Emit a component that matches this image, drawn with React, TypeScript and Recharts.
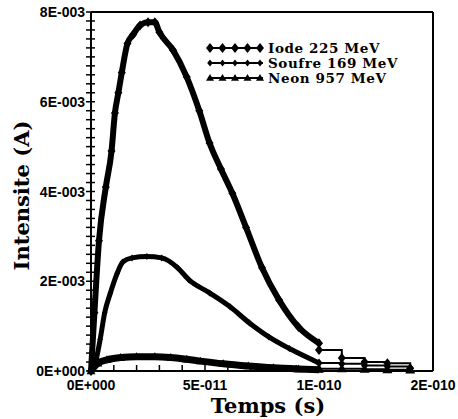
import { LineChart, Line, XAxis, YAxis, ReferenceLine, Legend } from 'recharts';

// times in picoseconds, currents in 1E-3 A
const iodeTime = [0, 1.5, 3.5, 6.5, 9, 10.5, 12, 13.5, 16, 18.5, 21.5, 25, 28, 30, 36, 42, 47.5, 52, 57, 62, 68, 75, 82.5, 91, 100];
const iodeValue = [0, 1.3, 2.9, 4.1, 4.9, 5.75, 6.2, 6.65, 7.3, 7.5, 7.7, 7.77, 7.77, 7.55, 7.15, 6.55, 5.8, 5.08, 4.5, 3.96, 3.2, 2.3, 1.58, 0.98, 0.62];
const iodeTailTime = [100, 120, 140, 160, 180];
const iodeTailValue = [0.47, 0.29, 0.2, 0.17, 0.06];

const soufreTime = [0, 2, 4, 6, 8.5, 11.5, 14, 18, 24.5, 31, 38, 43, 52, 61, 69.5, 78, 87, 100];
const soufreValue = [0, 0.2, 0.7, 1.3, 1.74, 2.18, 2.43, 2.52, 2.55, 2.52, 2.3, 2.03, 1.74, 1.43, 1.07, 0.76, 0.5, 0.18];
const soufreTailTime = [100, 120, 140, 160, 180];
const soufreTailValue = [0.18, 0.16, 0.12, 0.1, 0.06];

const neonTime = [0, 3, 7, 13, 20, 28, 35, 42, 48, 58, 69, 80, 91, 100];
const neonValue = [0, 0.17, 0.25, 0.3, 0.32, 0.32, 0.3, 0.26, 0.22, 0.16, 0.11, 0.07, 0.045, 0.03];
const neonTailTime = [100, 120, 140, 160, 180];
const neonTailValue = [0.05, 0.05, 0.04, 0.03, 0.02];

const xTickValues = [0, 50, 100, 150];
const xTickLabels = ['0E+000', '5E-011', '1E-010', '2E-010'];
const yTickValues = [0, 2, 4, 6, 8];
const yTickLabels = ['0E+000', '2E-003', '4E-003', '6E-003', '8E-003'];

const legendNames = ['Iode 225 MeV', 'Soufre 169 MeV', 'Neon 957 MeV'];

// the original axis is 1E-11 per division up to 1E-10, then 2E-11 per division
const axisPos = (ps: number) => (ps <= 100 ? ps : 100 + (ps - 100) / 2);
const toPoints = (times: number[], values: number[]) =>
  times.map((t, i) => ({ x: axisPos(t), y: values[i] }));

const xMinorTicks = Array.from({ length: 16 }, (_, i) => i * 10);
const yMinorTicks = Array.from({ length: 41 }, (_, i) => +(i * 0.2).toFixed(1));

const tickFont = { fontFamily: 'Liberation Sans', fontWeight: 700, fontSize: 14, fill: '#000' };
const titleFont = { fontFamily: 'DejaVu Serif', fontWeight: 700, fontSize: 21, fill: '#000' };
const legendFont = { fontFamily: 'DejaVu Serif', fontWeight: 700, fontSize: 13.5, letterSpacing: 0.6, fill: '#000' };

function Diamond({ cx, cy, r }: { cx: number; cy: number; r: number }) {
  return <path d={`M${cx},${cy - r}L${cx + r * 0.8},${cy}L${cx},${cy + r}L${cx - r * 0.8},${cy}Z`} fill="#000" />;
}

function Triangle({ cx, cy, r }: { cx: number; cy: number; r: number }) {
  return <path d={`M${cx},${cy - r}L${cx + r},${cy + r * 0.7}L${cx - r},${cy + r * 0.7}Z`} fill="#000" />;
}

const markerDot = (kind: string, r: number) => (props: any) => {
  const { cx, cy, index } = props;
  if (cx == null || cy == null) return <g key={index} />;
  return kind === 'triangle' ? (
    <Triangle key={index} cx={cx} cy={cy} r={r} />
  ) : (
    <Diamond key={index} cx={cx} cy={cy} r={r} />
  );
};

function XTick({ x, y, payload }: any) {
  const i = xTickValues.indexOf(payload.value);
  return (
    <g>
      <line x1={x} x2={x} y1={y} y2={y - 6} stroke="#000" strokeWidth={1.5} />
      {i >= 0 && (
        <text x={x} y={y + 19} textAnchor="middle" {...tickFont}>
          {xTickLabels[i]}
        </text>
      )}
    </g>
  );
}

function YTick({ x, y, payload }: any) {
  const i = yTickValues.indexOf(payload.value);
  return (
    <g>
      <line x1={x - 5} x2={x + 4} y1={y} y2={y} stroke="#000" strokeWidth={1.5} />
      {i >= 0 && (
        <text x={x - 6} y={y + 5} textAnchor="end" {...tickFont}>
          {yTickLabels[i]}
        </text>
      )}
    </g>
  );
}

function LegendBox() {
  const rows = [
    { kind: 'diamond', r: 5 },
    { kind: 'diamond', r: 3.5 },
    { kind: 'triangle', r: 4 },
  ];
  return (
    <svg width={220} height={50}>
      {rows.map((row, k) => {
        const cy = 10 + k * 15;
        return (
          <g key={legendNames[k]}>
            <line x1={3} x2={58} y1={cy} y2={cy} stroke="#000" strokeWidth={2} />
            {[0, 1, 2, 3, 4].map((j) =>
              row.kind === 'triangle' ? (
                <Triangle key={j} cx={5 + j * 12.5} cy={cy} r={row.r} />
              ) : (
                <Diamond key={j} cx={5 + j * 12.5} cy={cy} r={row.r} />
              )
            )}
            <text x={63} y={cy + 5} {...legendFont}>
              {legendNames[k]}
            </text>
          </g>
        );
      })}
    </svg>
  );
}

export default function App() {
  return (
    <div style={{ position: 'absolute', left: 0, top: 0, width: 458, height: 419, background: '#fff' }}>
      <LineChart width={458} height={419} margin={{ top: 12, right: 25, bottom: 0, left: 0 }}>
        <XAxis
          type="number"
          dataKey="x"
          domain={[0, 150]}
          ticks={xMinorTicks}
          interval={0}
          height={48}
          axisLine={{ stroke: '#000', strokeWidth: 2 }}
          tickLine={false}
          tickSize={0}
          tickMargin={0}
          tick={<XTick />}
          label={{
            content: (props: any) => {
              const vb = props.viewBox;
              return (
                <text x={vb.x + vb.width / 2 + 6} y={vb.y + 42} textAnchor="middle" {...titleFont}>
                  Temps (s)
                </text>
              );
            },
          }}
        />
        <YAxis
          type="number"
          dataKey="y"
          domain={[0, 8]}
          ticks={yMinorTicks}
          interval={0}
          width={91}
          axisLine={{ stroke: '#000', strokeWidth: 2 }}
          tickLine={false}
          tickSize={0}
          tickMargin={0}
          tick={<YTick />}
          label={{
            content: (props: any) => {
              const vb = props.viewBox;
              return (
                <text
                  transform={`translate(${vb.x + 29},${vb.y + vb.height / 2 + 4}) rotate(-90)`}
                  textAnchor="middle"
                  {...titleFont}
                >
                  Intensite (A)
                </text>
              );
            },
          }}
        />
        <ReferenceLine y={8} stroke="#000" strokeWidth={2} />
        <ReferenceLine x={150} stroke="#000" strokeWidth={2} />

        <Line data={toPoints(iodeTime, iodeValue)} dataKey="y" type="monotone" stroke="#000" strokeWidth={6}
          dot={markerDot('diamond', 5)} isAnimationActive={false} />
        <Line data={toPoints(iodeTailTime, iodeTailValue)} dataKey="y" type="stepAfter" stroke="#000" strokeWidth={2}
          dot={markerDot('diamond', 5)} isAnimationActive={false} />

        <Line data={toPoints(soufreTime, soufreValue)} dataKey="y" type="monotone" stroke="#000" strokeWidth={5}
          dot={markerDot('diamond', 3.5)} isAnimationActive={false} />
        <Line data={toPoints(soufreTailTime, soufreTailValue)} dataKey="y" type="stepAfter" stroke="#000" strokeWidth={2}
          dot={markerDot('diamond', 4.5)} isAnimationActive={false} />

        <Line data={toPoints(neonTime, neonValue)} dataKey="y" type="monotone" stroke="#000" strokeWidth={7}
          dot={markerDot('triangle', 4.5)} isAnimationActive={false} />
        <Line data={toPoints(neonTailTime, neonTailValue)} dataKey="y" type="stepAfter" stroke="#000" strokeWidth={2}
          dot={markerDot('triangle', 5)} isAnimationActive={false} />

        <Legend
          layout="horizontal"
          verticalAlign="middle"
          align="center"
          content={() => <LegendBox />}
          wrapperStyle={{ position: 'absolute', left: 205, top: 38, width: 220, height: 50 }}
        />
      </LineChart>
    </div>
  );
}
